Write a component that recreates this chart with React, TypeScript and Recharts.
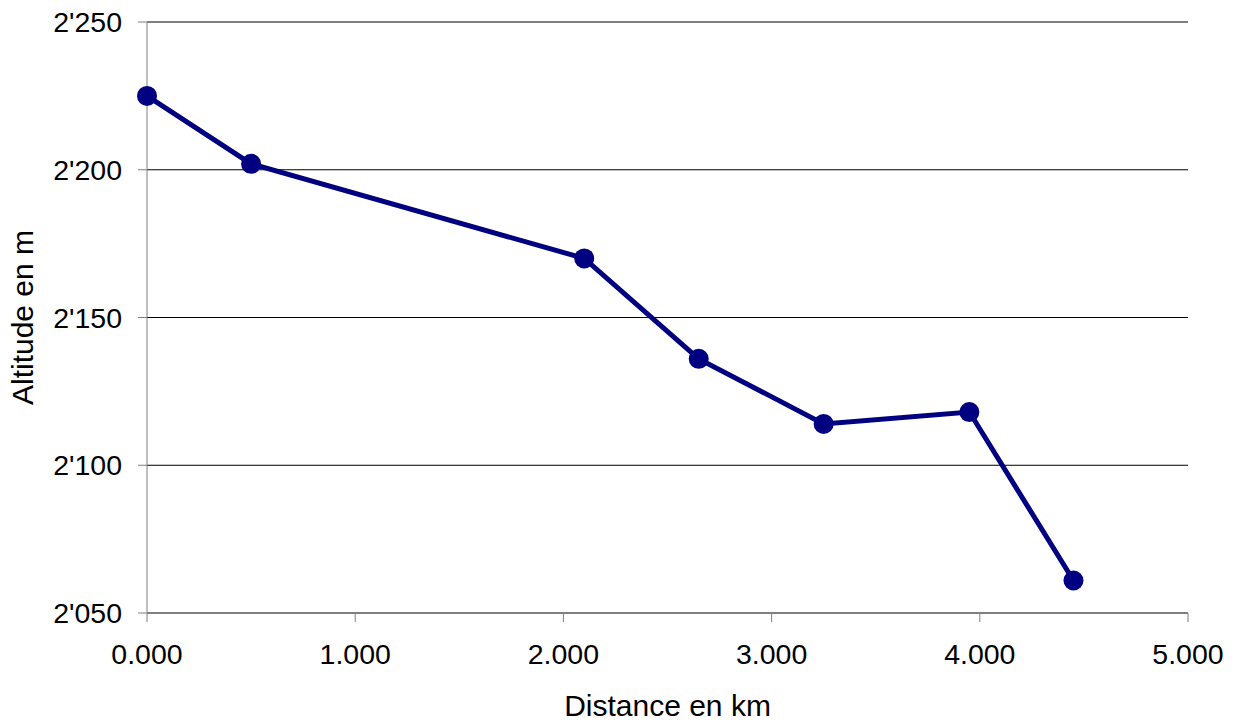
import React from 'react';
import { LineChart, Line, XAxis, YAxis, CartesianGrid } from 'recharts';

// distance along the route (km) and altitude (m)
const distances = [0, 0.5, 2.1, 2.65, 3.25, 3.95, 4.45];
const altitudes = [2225, 2202, 2170, 2136, 2114, 2118, 2061];

const xTicks = [0, 1, 2, 3, 4, 5];
const yTicks = [2050, 2100, 2150, 2200, 2250];

const data = distances.map((d, i) => ({ d, alt: altitudes[i] }));

const FONT = '"Liberation Sans", Arial, sans-serif';
const NAVY = '#000080';
const TICK_SIZE = 28.5;
const TITLE_SIZE = 30;

const fmtAlt = (v: number) => `${Math.floor(v / 1000)}'${String(v % 1000).padStart(3, '0')}`;

export default function App() {
  return (
    <div style={{ position: 'fixed', left: 0, top: 0, background: '#fff' }}>
      <LineChart width={1239} height={724} data={data} margin={{ top: 22, right: 51, bottom: 0, left: 0 }}>
        <CartesianGrid vertical={false} stroke="#000" strokeWidth={1} />
        <XAxis
          type="number"
          dataKey="d"
          domain={[0, 5]}
          ticks={xTicks}
          height={111}
          tickSize={9}
          tickMargin={22}
          tickFormatter={(v: number) => v.toFixed(3)}
          axisLine={{ stroke: '#808080' }}
          tickLine={{ stroke: '#808080' }}
          tick={{ fill: '#000', fontSize: TICK_SIZE, fontFamily: FONT }}
          label={{
            value: 'Distance en km',
            position: 'insideBottom',
            offset: 8,
            style: { fill: '#000', fontSize: TITLE_SIZE, fontFamily: FONT },
          }}
        />
        <YAxis
          type="number"
          domain={[2050, 2250]}
          ticks={yTicks}
          width={147}
          tickSize={9}
          tickMargin={16}
          tickFormatter={fmtAlt}
          axisLine={{ stroke: '#808080' }}
          tickLine={{ stroke: '#808080' }}
          tick={{ fill: '#000', fontSize: TICK_SIZE, fontFamily: FONT }}
          label={{
            value: 'Altitude en m',
            angle: -90,
            position: 'insideLeft',
            offset: 22,
            style: { fill: '#000', fontSize: TITLE_SIZE, fontFamily: FONT, textAnchor: 'middle' },
          }}
        />
        <Line
          dataKey="alt"
          type="linear"
          stroke={NAVY}
          strokeWidth={5}
          dot={{ r: 10, fill: NAVY, stroke: 'none' }}
          activeDot={false}
          isAnimationActive={false}
        />
      </LineChart>
    </div>
  );
}
